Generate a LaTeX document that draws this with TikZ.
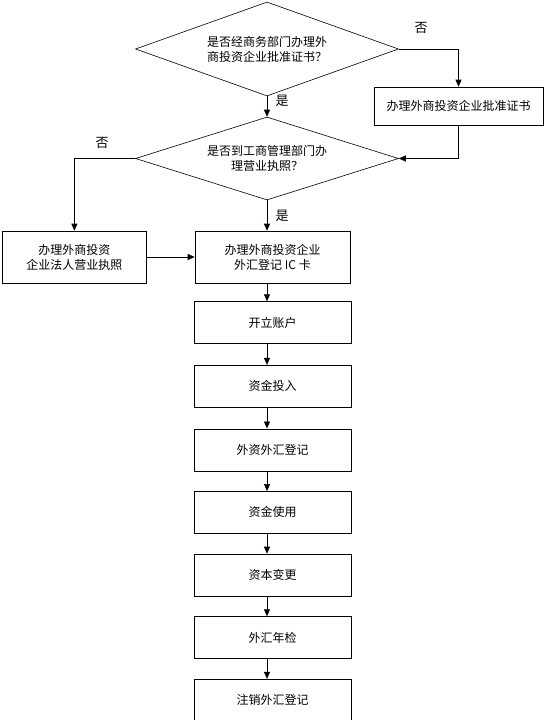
\documentclass[tikz,border=0pt]{standalone}
\usepackage{fontspec}
\setmainfont{Noto Sans CJK SC}
\usetikzlibrary{shapes,arrows.meta,positioning}

\begin{document}
\begin{tikzpicture}[x=1pt, y=-1pt, line width=0.6pt,
        >={Triangle[width=6pt,length=7pt]},
        font=\fontsize{12pt}{15pt}\selectfont,
        box/.style={draw, rectangle, inner sep=0pt, align=center, minimum width=157pt, minimum height=42pt},
        decide/.style={draw, diamond, aspect=2.8, inner sep=0pt, align=center, minimum width=263pt},
        lbl/.style={inner sep=0pt, font=\fontsize{13pt}{15pt}\selectfont}]
        \useasboundingbox (0,0) rectangle (546,720);
        % Decisions
        \node[decide, minimum height=94pt] (approve) at (267,49) {是否经商务部门办理外\\商投资企业批准证书？};
        \node[decide, minimum height=83pt] (license) at (267,158.5) {是否到工商管理部门办\\理营业执照？};
        \node[box, minimum width=169pt, minimum height=38pt] (permit) at (458.5,106) {办理外商投资企业批准证书};
        
        % Registration boxes
        \node[box, minimum width=155pt, minimum height=52pt] (iccard) at (272.5,257) {办理外商投资企业\\外汇登记 IC 卡};
        \node[box, minimum width=144pt, minimum height=52pt, left=48pt of iccard] (legal) {办理外商投资\\企业法人营业执照};
        
        % Main chain
        \node[box, below=18pt of iccard] (account) {开立账户};
        \node[box, below=21pt of account] (invest) {资金投入};
        \node[box, below=21pt of invest] (fxreg) {外资外汇登记};
        \node[box, below=20pt of fxreg] (use) {资金使用};
        \node[box, below=20pt of use] (change) {资本变更};
        \node[box, below=20pt of change] (annual) {外汇年检};
        \node[box, below=20pt of annual] (cancel) {注销外汇登记};
        
        % Arrows for decisions
        \draw[->] (approve.east) -| (permit.north);
        \draw[->] (permit.south) |- (license.east);
        \draw[->] (approve.south) -- (license.north);
        \draw[->] (license.west) -| (legal.north);
        \draw[->] (license.south) -- (iccard.north -| license.south);
        \draw[->] (legal.east) -- (iccard.west);
        
        % Arrows for main chain
        \draw[->] (iccard.south -| license.south) -- (account.north -| license.south);
        \draw[->] (account.south -| license.south) -- (invest.north -| license.south);
        \draw[->] (invest.south -| license.south) -- (fxreg.north -| license.south);
        \draw[->] (fxreg.south -| license.south) -- (use.north -| license.south);
        \draw[->] (use.south -| license.south) -- (change.north -| license.south);
        \draw[->] (change.south -| license.south) -- (annual.north -| license.south);
        \draw[->] (annual.south -| license.south) -- (cancel.north -| license.south);
        
        % Labels
        \node[lbl] (no1) at (421,28) {否};
        \node[lbl] (yes1) at (282,101) {是};
        \node[lbl] (no2) at (102,143) {否};
        \node[lbl] (yes2) at (282,216) {是};
    \end{tikzpicture}
\end{document}
